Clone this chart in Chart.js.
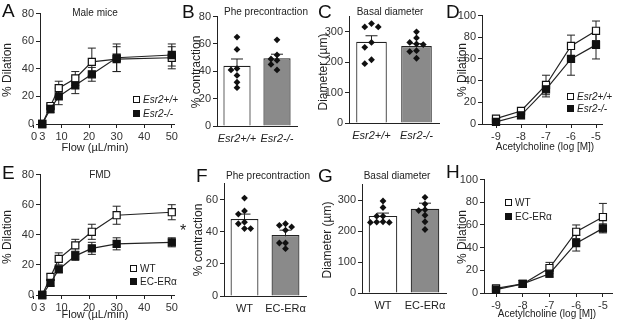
<!DOCTYPE html>
<html>
<head>
<meta charset="utf-8">
<script src="https://cdn.jsdelivr.net/npm/chart.js@4.4.1/dist/chart.umd.min.js"></script>
<style>
  body { margin: 0; background: #fff; font-family: "Liberation Sans", Arial, sans-serif; color: #222; }
  #fig { position: relative; width: 617px; height: 322px; overflow: hidden; }
  canvas { position: absolute; }
  .txt { position: absolute; white-space: nowrap; font-size: 10px; line-height: 1; transform: translate(-50%, -50%); }
  .letter { position: absolute; font-size: 19px; line-height: 1; color: #111; }
  .ylab { position: absolute; white-space: nowrap; font-size: 12px; line-height: 1; transform: translate(-50%, -50%) rotate(-90deg); }
  .leg { position: absolute; white-space: nowrap; font-size: 10px; line-height: 1; transform: translateY(-50%); }
  .leg .box { display: inline-block; width: 5px; height: 5px; border: 1.2px solid #111; margin-right: 3px; vertical-align: 0; }
  .it { font-style: italic; }
</style>
</head>
<body>
<div id="fig"></div>
<script>
// ---- data ----
const flow = [3, 6, 9, 15, 21, 30, 50];
const flowTicks = [0, 3, 10, 20, 30, 40, 50];
const achDose = [-9, -8, -7, -6, -5];

const maleGroups = ['Esr2+/+', 'Esr2-/-'];
const femGroups = ['WT', 'EC-ERα'];

// A: male mice, flow-mediated dilation
const maleWt = [0, 13, 26, 33, 45, 47, 48];
const maleWtErr = [0, 2, 5, 5, 10, 9, 8];
const maleKo = [0, 11, 20, 28, 36, 48, 50];
const maleKoErr = [0, 3, 6, 6, 5, 10, 8];

// B: Phe precontraction (male)
const pheMale = [44, 49.5];
const pheMaleErr = [5, 3];
const pheMaleWtDots = [65, 56, 42, 41, 37, 32, 28];
const pheMaleKoDots = [63, 52, 49, 48, 45, 41];

// C: basal diameter (male)
const diamMale = [267, 253];
const diamMaleErr = [20, 8];
const diamMaleWtDots = [327, 316, 316, 265, 249, 208, 195];
const diamMaleKoDots = [300, 280, 265, 260, 258, 238, 235, 213];

// D: acetylcholine (male)
const achMaleWt = [5, 12, 36, 72, 86];
const achMaleWtErr = [2, 3, 9, 10, 9];
const achMaleKo = [2, 8, 32, 60, 73];
const achMaleKoErr = [2, 3, 7, 15, 13];

// E: FMD
const fmdWt = [0, 12, 24, 33, 42, 53, 55];
const fmdWtErr = [0, 2, 4, 4, 5, 6, 5];
const fmdKo = [0, 8, 17, 26, 31, 34, 35];
const fmdKoErr = [0, 2, 2, 3, 4, 4, 3];

// F: Phe precontraction (EC-ERa)
const pheFem = [48, 38];
const pheFemErr = [3, 3];
const pheFemWtDots = [61, 53, 51, 46, 45, 42, 42];
const pheFemKoDots = [45, 44, 43, 41, 33, 33, 29.5];

// G: basal diameter (EC-ERa)
const diamFem = [249, 272];
const diamFemErr = [9, 18];
const diamFemWtDots = [297, 276, 248, 248, 230, 229, 228, 228];
const diamFemKoDots = [309, 287, 269, 266, 251, 230, 205];

// H: acetylcholine (EC-ERa)
const achFemWt = [4, 8, 22, 54, 67];
const achFemWtErr = [1, 3, 5, 6, 12];
const achFemKo = [3, 8, 17, 44, 57];
const achFemKoErr = [1, 3, 3, 7, 4];

// ---- drawing ----
const FONT = '"Liberation Sans", Arial, sans-serif';
const INK = '#222';
Chart.defaults.font.family = FONT;
Chart.defaults.animation = false;

const fig = document.getElementById('fig');
const PAD_L = 34, PAD_T = 8, PAD_R = 8, PAD_B = 18;

// SEM whiskers, drawn under the marks so bars hide the lower half
const errorBars = {
  id: 'errorBars',
  beforeDatasetsDraw(chart) {
    const ctx = chart.ctx;
    chart.data.datasets.forEach((ds, i) => {
      if (!ds.errors) return;
      const meta = chart.getDatasetMeta(i);
      const yScale = chart.scales[meta.yAxisID];
      const cap = ds.capWidth || 4;
      ctx.save();
      ctx.strokeStyle = INK;
      ctx.lineWidth = 1;
      meta.data.forEach((el, j) => {
        const e = ds.errors[j];
        if (!e) return;
        const raw = ds.data[j];
        const v = typeof raw === 'object' ? raw.y : raw;
        const top = yScale.getPixelForValue(v + e);
        const bot = yScale.getPixelForValue(v - e);
        ctx.beginPath();
        ctx.moveTo(el.x, top); ctx.lineTo(el.x, bot);
        ctx.moveTo(el.x - cap, top); ctx.lineTo(el.x + cap, top);
        ctx.moveTo(el.x - cap, bot); ctx.lineTo(el.x + cap, bot);
        ctx.stroke();
      });
      ctx.restore();
    });
  }
};

function axis(extra) {
  const a = {
    offset: false,
    border: { display: true, color: INK, width: 1 },
    grid: { offset: false, drawOnChartArea: false, drawTicks: true, tickLength: 4, tickColor: INK },
    ticks: { color: '#333', font: { size: 11 }, padding: 2 }
  };
  for (const k in extra) {
    if (typeof extra[k] === 'object' && a[k]) Object.assign(a[k], extra[k]);
    else a[k] = extra[k];
  }
  return a;
}

function panel(area, config) {
  const c = document.createElement('canvas');
  const w = area.r - area.l + PAD_L + PAD_R;
  const h = area.b - area.t + PAD_T + PAD_B;
  c.width = w; c.height = h;
  c.style.left = (area.l - PAD_L) + 'px';
  c.style.top = (area.t - PAD_T) + 'px';
  c.style.width = w + 'px';
  c.style.height = h + 'px';
  fig.appendChild(c);
  config.options.responsive = false;
  config.options.layout = { padding: { left: 0, top: PAD_T, right: PAD_R, bottom: 0 } };
  config.options.plugins = { legend: { display: false }, tooltip: { enabled: false } };
  config.options.scales.x.afterFit = s => { s.height = PAD_B; };
  config.options.scales.y.afterFit = s => { s.width = PAD_L; };
  config.plugins = [errorBars];
  return new Chart(c, config);
}

function series(xs, ys, errs, filled) {
  return {
    data: xs.map((x, i) => ({ x: x, y: ys[i] })),
    errors: errs,
    showLine: true,
    borderColor: INK,
    borderWidth: 1.2,
    pointStyle: 'rect',
    pointRadius: 5,
    pointBorderWidth: 1.2,
    pointBorderColor: '#111',
    pointBackgroundColor: filled ? '#111' : '#fff',
    clip: false
  };
}

function linePanel(area, xs, open, openErr, filled, filledErr, xOpts, yMax, yStep) {
  return panel(area, {
    type: 'scatter',
    data: { datasets: [series(xs, filled, filledErr, true), series(xs, open, openErr, false)] },
    options: {
      scales: {
        x: axis(Object.assign({ type: 'linear' }, xOpts)),
        y: axis({ min: 0, max: yMax, ticks: { stepSize: yStep } })
      }
    }
  });
}

// spread dots that sit at nearly the same height sideways, GraphPad style
function swarm(values, index, range) {
  const step = 0.15, near = range * 0.05;
  const placed = [];
  const order = [0, -1, 1, -2, 2, -3, 3];
  return values.map(v => {
    let off = 0;
    for (const o of order) {
      off = o * step;
      if (!placed.some(p => Math.abs(p.y - v) < near && Math.abs(p.x - off) < step * 0.9)) break;
    }
    placed.push({ x: off, y: v });
    return { x: index + off, y: v };
  });
}

function barPanel(area, groups, means, errs, dotsA, dotsB, yMax, yStep, italic) {
  return panel(area, {
    type: 'scatter',
    data: {
      datasets: [
        {
          type: 'scatter', order: 0,
          data: swarm(dotsA, 0, yMax).concat(swarm(dotsB, 1, yMax)),
          pointStyle: 'rectRot', pointRadius: 3.4, pointBorderWidth: 0,
          pointBackgroundColor: '#111', clip: false
        },
        {
          type: 'bar', order: 1,
          data: means.map((m, i) => ({ x: i, y: m })), errors: errs, capWidth: 6,
          backgroundColor: ['#fff', '#8a8a8a'],
          borderColor: INK, borderWidth: 1.2, borderSkipped: 'bottom',
          barPercentage: 0.68, categoryPercentage: 1
        }
      ]
    },
    options: {
      scales: {
        x: axis({
          type: 'linear', min: -0.5, max: 1.5,
          afterBuildTicks: s => { s.ticks = groups.map((g, i) => ({ value: i })); },
          grid: { drawTicks: false },
          ticks: {
            color: INK, padding: 6, autoSkip: false, maxRotation: 0,
            font: { size: 11, style: italic ? 'italic' : 'normal' },
            callback: v => groups[v]
          }
        }),
        y: axis({ min: 0, max: yMax, ticks: { stepSize: yStep } })
      }
    }
  });
}

const flowAxis = {
  min: 2.2, max: 50.8,
  afterBuildTicks: s => { s.ticks = flowTicks.map(v => ({ value: v })); }
};
const achAxis = (lo, hi) => ({
  min: lo, max: hi,
  afterBuildTicks: s => { s.ticks = achDose.map(v => ({ value: v })); }
});

linePanel({ l: 40, r: 174, t: 13, b: 124 }, flow, maleWt, maleWtErr, maleKo, maleKoErr, flowAxis, 80, 20);
barPanel({ l: 217, r: 297, t: 16, b: 126 }, maleGroups, pheMale, pheMaleErr, pheMaleWtDots, pheMaleKoDots, 80, 20, true);
barPanel({ l: 349, r: 439, t: 16, b: 123 }, maleGroups, diamMale, diamMaleErr, diamMaleWtDots, diamMaleKoDots, 350, 50, true);
linePanel({ l: 482, r: 602, t: 15, b: 124 }, achDose, achMaleWt, achMaleWtErr, achMaleKo, achMaleKoErr, achAxis(-9.56, -4.76), 100, 20);

linePanel({ l: 40, r: 174, t: 174, b: 295 }, flow, fmdWt, fmdWtErr, fmdKo, fmdKoErr, flowAxis, 80, 20);
barPanel({ l: 224, r: 306, t: 183, b: 296 }, femGroups, pheFem, pheFemErr, pheFemWtDots, pheFemKoDots, 70, 10, false);
barPanel({ l: 362, r: 446, t: 184, b: 293 }, femGroups, diamFem, diamFemErr, diamFemWtDots, diamFemKoDots, 350, 50, false);
linePanel({ l: 484, r: 612, t: 179, b: 293 }, achDose, achFemWt, achFemWtErr, achFemKo, achFemKoErr, achAxis(-9.45, -4.66), 100, 20);

// ---- text ----
function put(cls, text, x, y, extra) {
  const d = document.createElement('div');
  d.className = cls;
  d.textContent = text;
  d.style.left = x + 'px';
  d.style.top = y + 'px';
  if (extra) Object.assign(d.style, extra);
  fig.appendChild(d);
  return d;
}

[['A', 2, 1], ['B', 182, 2], ['C', 318, 2], ['D', 446, 2],
 ['E', 2, 163], ['F', 196, 166], ['G', 318, 166], ['H', 446, 162]]
  .forEach(([t, x, y]) => put('letter', t, x, y));

put('txt', 'Male mice', 95, 13);
put('txt', 'Phe precontraction', 266, 12);
put('txt', 'Basal diameter', 390, 12);
put('txt', 'FMD', 100, 175);
put('txt', 'Phe precontraction', 268, 176);
put('txt', 'Basal diameter', 397, 176);

put('ylab', '% Dilation', 7, 70);
put('ylab', '% contraction', 196, 72);
put('ylab', 'Diameter (µm)', 323, 72);
put('ylab', '% Dilation', 462, 70);
put('ylab', '% Dilation', 7, 237);
put('ylab', '% contraction', 198, 240);
put('ylab', 'Diameter (µm)', 327, 240);
put('ylab', '% Dilation', 462, 237);

put('txt', 'Flow (µL/min)', 95, 147, { fontSize: '11px' });
put('txt', 'Acetylcholine (log [M])', 545, 147);
put('txt', 'Flow (µL/min)', 95, 314, { fontSize: '11px' });
put('txt', 'Acetylcholine (log [M])', 547, 314);

put('txt', '*', 183, 231, { fontSize: '16px' });

function legend(groups, x, y, gap, italic) {
  groups.forEach((g, i) => {
    const d = put('leg', '', x, y + i * gap);
    const box = document.createElement('span');
    box.className = 'box';
    box.style.background = i === 0 ? '#fff' : '#111';
    const lab = document.createElement('span');
    lab.textContent = g;
    if (italic) lab.className = 'it';
    d.appendChild(box);
    d.appendChild(lab);
  });
}
legend(maleGroups, 133, 100, 14, true);
legend(maleGroups, 567, 97, 12, true);
legend(femGroups, 130, 269, 13, false);
legend(femGroups, 505, 203, 14, false);
</script>
</body>
</html>
